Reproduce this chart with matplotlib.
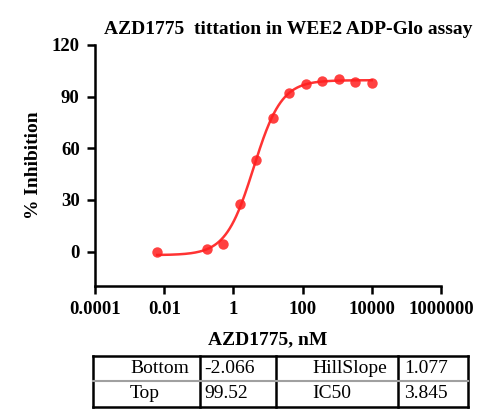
import numpy as np
import matplotlib
matplotlib.use("Agg")
import matplotlib.pyplot as plt
from matplotlib.lines import Line2D

plt.rcParams['font.family'] = ['Liberation Serif', 'DejaVu Serif']

# measured points (nM, % inhibition)
conc = [0.00627, 0.169, 0.508, 1.52, 4.57, 13.7, 41.2, 123, 370, 1111, 3333, 10000]
inhib = [-0.4, 1.6, 4.6, 27.6, 53.3, 77.5, 92.0, 97.2, 99.3, 100.3, 98.2, 97.8]

# fit parameters shown in the table
bottom, top, hill, ic50 = -2.066, 99.52, 1.077, 3.845
param_names = [['Bottom', 'HillSlope'], ['Top', 'IC50']]
param_vals = [['-2.066', '1.077'], ['99.52', '3.845']]

xticks = [1e-4, 1e-2, 1, 1e2, 1e4, 1e6]
xticklabels = ['0.0001', '0.01', '1', '100', '10000', '1000000']
yticks = [0, 30, 60, 90, 120]

fig = plt.figure(figsize=(5, 4.2), dpi=100)
ax = fig.add_axes([0.19, 0.319, 0.692, 0.574])

xfit = np.logspace(np.log10(conc[0]), np.log10(conc[-1]), 300)
yfit = bottom + (top - bottom) / (1 + (ic50 / xfit) ** hill)
ax.plot(xfit, yfit, color='#ff3333', lw=1.8, zorder=2)
ax.plot(conc, inhib, 'o', color='#ff2020', alpha=0.85, ms=7.5, mec='none', zorder=3)

ax.set_xscale('log')
ax.set_xlim(1e-4, 1e6)
ax.set_ylim(-20, 120)
ax.set_xticks(xticks)
ax.set_xticklabels(xticklabels)
ax.xaxis.set_minor_locator(matplotlib.ticker.NullLocator())
ax.set_yticks(yticks)
for s in ['top', 'right']:
    ax.spines[s].set_visible(False)
for s in ['left', 'bottom']:
    ax.spines[s].set_linewidth(1.8)
ax.tick_params(width=1.8, length=6, labelsize=13.5, pad=5)
for lab in ax.get_xticklabels() + ax.get_yticklabels():
    lab.set_fontweight('bold')

ax.set_xlabel('AZD1775, nM', fontsize=14, fontweight='bold', labelpad=9)
ax.set_ylabel('% Inhibition', fontsize=14, fontweight='bold', labelpad=7)
fig.text(288 / 500, 1 - 30 / 420, 'AZD1775  tittation in WEE2 ADP-Glo assay',
         ha='center', va='center', fontsize=14, fontweight='bold')

# parameter table
W, H = 500, 420
xs = [93, 200, 276, 398, 468]
ys = [356, 381, 407]
def fx(v): return v / W
def fy(v): return 1 - v / H
for x in xs:
    fig.add_artist(Line2D([fx(x), fx(x)], [fy(ys[0]), fy(ys[-1])], color='black', lw=1.8))
for y in [ys[0], ys[-1]]:
    fig.add_artist(Line2D([fx(xs[0]), fx(xs[-1])], [fy(y), fy(y)], color='black', lw=1.8))
fig.add_artist(Line2D([fx(xs[0]), fx(xs[-1])], [fy(ys[1]), fy(ys[1])], color='#a0a0a0', lw=1.5))

for r in range(2):
    yc = fy((ys[r] + ys[r + 1]) / 2)
    fig.text(fx(130), yc, param_names[r][0], ha='left', va='center', fontsize=14)
    fig.text(fx(204), yc, param_vals[r][0], ha='left', va='center', fontsize=14)
    fig.text(fx(312), yc, param_names[r][1], ha='left', va='center', fontsize=14)
    fig.text(fx(404), yc, param_vals[r][1], ha='left', va='center', fontsize=14)

fig.savefig('out.png', dpi=100)
